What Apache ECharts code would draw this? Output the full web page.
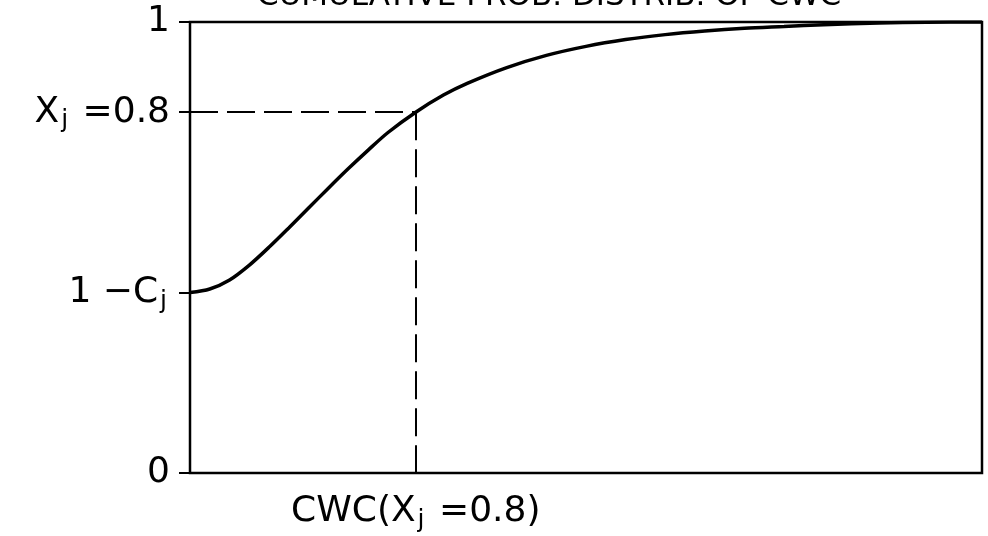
<!DOCTYPE html>
<html>
<head>
<meta charset="utf-8">
<script src="https://cdn.jsdelivr.net/npm/echarts@6/dist/echarts.min.js"></script>
<style>
  html, body { margin: 0; padding: 0; background: #fff; }
  #chart { width: 988px; height: 536px; }
</style>
</head>
<body>
<div id="chart"></div>
<script>
// Cumulative probability distribution of CWC (normalised CWC on x)
var cwcValues  = [0, 0.025, 0.05, 0.075, 0.1, 0.125, 0.15, 0.175, 0.2, 0.225, 0.25, 0.285, 0.32, 0.35, 0.4, 0.45, 0.5, 0.55, 0.6, 0.65, 0.7, 0.75, 0.8, 0.87, 0.93, 1.0];
var probValues = [0.4, 0.408, 0.428, 0.461, 0.501, 0.544, 0.588, 0.632, 0.675, 0.716, 0.755, 0.8, 0.838, 0.864, 0.899, 0.926, 0.946, 0.961, 0.972, 0.980, 0.986, 0.990, 0.994, 0.998, 0.9995, 1.0];

// Marked quantile: X_j = 0.8 reached at CWC(X_j = 0.8)
var quantileProb = 0.8;
var quantileCwc = 0.285;

// Y tick positions and their labels
var yTickValues = [0, 0.4, 0.8, 1];
var yTickLabels = ['{n|0}', '{n|1 \u2212C}{s|j}', '{n|X}{s|j}{n| =0.8}', '{n|1}'];
var xTickLabel = '{n|CWC(X}{s|j}{n| =0.8)}';
var titleText = 'CUMULATIVE PROB. DISTRIB. OF CWC';

var FONT = '"DejaVu Sans", "Liberation Sans", sans-serif';
var rich = {
  n: { fontFamily: FONT, fontSize: 36, color: '#000', lineHeight: 42, verticalAlign: 'middle' },
  // subscript: thin box sitting at the bottom of the line, below the main baseline
  s: { fontFamily: FONT, fontSize: 25, color: '#000', lineHeight: 6, verticalAlign: 'bottom', padding: [0, 3, 0, 2] }
};

var chart = echarts.init(document.getElementById('chart'), null, { renderer: 'canvas' });

var curve = cwcValues.map(function (x, i) { return [x, probValues[i]]; });

chart.setOption({
  backgroundColor: '#fff',
  animation: false,
  graphic: [{
    type: 'text',
    x: 257,
    y: -3,
    style: { text: titleText, fontFamily: FONT, fontSize: 31, fill: '#000', verticalAlign: 'middle' }
  }],
  grid: {
    left: 190, right: 6, top: 22, bottom: 63,
    show: true, borderColor: '#000', borderWidth: 2.5, backgroundColor: 'transparent'
  },
  xAxis: {
    type: 'value', min: 0, max: 1,
    axisLine: { show: false },
    axisTick: { show: false },
    splitLine: { show: false },
    axisLabel: {
      customValues: [quantileCwc],
      margin: 18,
      formatter: function () { return xTickLabel; },
      rich: rich
    }
  },
  yAxis: {
    type: 'value', min: 0, max: 1,
    axisLine: { show: false },
    splitLine: { show: false },
    axisTick: {
      show: true, customValues: yTickValues, length: 11, inside: false,
      lineStyle: { color: '#000', width: 2 }
    },
    axisLabel: {
      customValues: yTickValues,
      margin: 20,
      formatter: function (v) {
        var i = yTickValues.indexOf(v);
        return i >= 0 ? yTickLabels[i] : '';
      },
      rich: rich
    }
  },
  series: [{
    type: 'line',
    data: curve,
    smooth: 0.3,
    showSymbol: false,
    lineStyle: { color: '#000', width: 3.5 },
    z: 5,
    markLine: {
      silent: true,
      symbol: 'none',
      label: { show: false },
      lineStyle: { color: '#000', width: 2, type: [28, 9] },
      data: [
        [{ coord: [0, quantileProb] }, { coord: [quantileCwc, quantileProb] }],
        [{ coord: [quantileCwc, quantileProb] }, { coord: [quantileCwc, 0] }]
      ]
    }
  }]
});
</script>
</body>
</html>
